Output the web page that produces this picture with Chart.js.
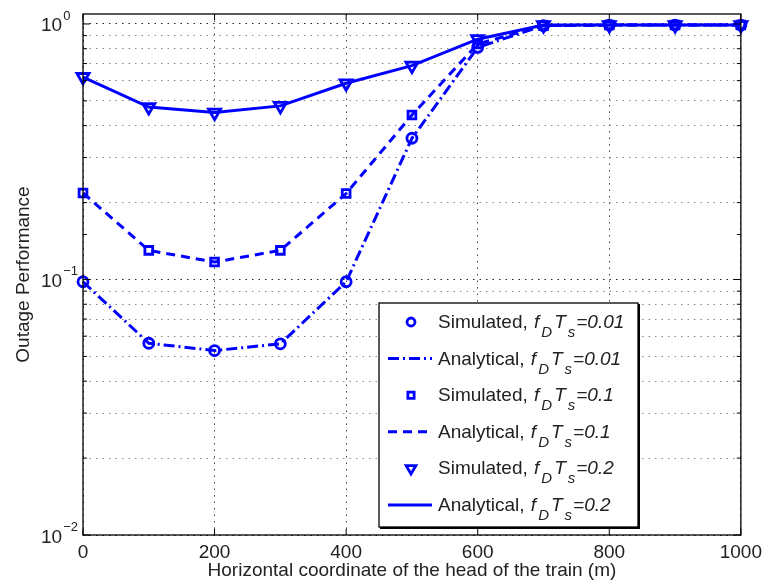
<!DOCTYPE html>
<html>
<head>
<meta charset="utf-8">
<script src="https://cdn.jsdelivr.net/npm/chart.js@4.4.0/dist/chart.umd.min.js"></script>
<style>
  html, body { margin: 0; background: #fff; }
  #wrap { width: 768px; height: 586px; }
</style>
</head>
<body>
<div id="wrap"><canvas id="outageChart"></canvas></div>
<script>
// horizontal position of the train head (m)
const xPos = [0, 100, 200, 300, 400, 500, 600, 700, 800, 900, 1000];
// outage performance
const outage001 = [0.098, 0.0563, 0.0527, 0.056, 0.098, 0.357, 0.81, 0.985, 0.99, 0.99, 0.99];
const outage01 = [0.218, 0.130, 0.117, 0.130, 0.217, 0.44, 0.835, 0.985, 0.99, 0.99, 0.99];
const outage02 = [0.62, 0.473, 0.45, 0.478, 0.586, 0.687, 0.872, 0.99, 0.99, 0.99, 0.99];
const fdtsLabels = ['0.01', '0.1', '0.2'];
const yDecades = [0.01, 0.1, 1];
const xTickStep = 200;

const FONT = '"Liberation Sans", Arial, Helvetica, sans-serif';
const BLUE = '#0000ff';

function pts(arr) {
    return xPos.map((x, i) => ({ x: x, y: arr[i] }));
}

function simulated(arr, style, r, rot, fdts) {
    return {
        label: 'Simulated', fdts: fdts, data: pts(arr), showLine: false,
        pointStyle: style, pointRadius: r, pointRotation: rot || 0,
        pointBorderWidth: 2.8, pointBorderColor: BLUE,
        pointBackgroundColor: 'rgba(0,0,0,0)', borderColor: BLUE, clip: false
    };
}

function analytical(arr, dash, fdts) {
    return {
        label: 'Analytical', fdts: fdts, data: pts(arr), borderColor: BLUE,
        borderWidth: 3, borderDash: dash, pointRadius: 0, tension: 0, clip: false
    };
}

// draws box, inward ticks, superscript labels, axis titles and the legend
const matlabLook = {
    id: 'matlabLook',
    afterDraw(chart) {
        let ctx = chart.ctx;
        let a = chart.chartArea;
        let xs = chart.scales.x, ys = chart.scales.y;
        ctx.save();

        ctx.strokeStyle = '#000';
        ctx.lineWidth = 1.3;
        ctx.setLineDash([]);
        ctx.strokeRect(a.left, a.top, a.right - a.left, a.bottom - a.top);

        // tick marks pointing inward
        ctx.lineWidth = 1;
        ctx.beginPath();
        for (let v = 0; v <= 1000; v += xTickStep) {
            let x = xs.getPixelForValue(v);
            ctx.moveTo(x, a.bottom); ctx.lineTo(x, a.bottom - 6);
            ctx.moveTo(x, a.top); ctx.lineTo(x, a.top + 6);
        }
        ys.ticks.forEach(t => {
            let v = t.value;
            if (v > 1.0001) return;
            let m = v / Math.pow(10, Math.floor(Math.log10(v) + 1e-9));
            let len = Math.abs(m - 1) < 1e-6 ? 7 : 4;
            let y = ys.getPixelForValue(v);
            ctx.moveTo(a.left, y); ctx.lineTo(a.left + len, y);
            ctx.moveTo(a.right, y); ctx.lineTo(a.right - len, y);
        });
        ctx.stroke();

        // y tick labels as 10 with exponent
        ctx.fillStyle = '#222';
        ctx.textAlign = 'left';
        ctx.textBaseline = 'alphabetic';
        yDecades.forEach(v => {
            let y = ys.getPixelForValue(v);
            let exp = String(Math.round(Math.log10(v))).replace('-', '\u2212');
            ctx.font = '19px ' + FONT;
            ctx.fillText('10', 41, y + 7.5);
            let w = ctx.measureText('10').width;
            ctx.font = '13px ' + FONT;
            ctx.fillText(exp, 41 + w + 1, y - 4);
        });

        // axis titles
        ctx.font = '19px ' + FONT;
        ctx.textAlign = 'center';
        ctx.fillText('Horizontal coordinate of the head of the train (m)', (a.left + a.right) / 2, 576);
        ctx.save();
        ctx.translate(29, (a.top + a.bottom) / 2);
        ctx.rotate(-Math.PI / 2);
        ctx.fillText('Outage Performance', 0, 0);
        ctx.restore();

        // legend
        let lx = 379, ly = 303, lw = 259, lh = 224;
        ctx.fillStyle = '#fff';
        ctx.fillRect(lx, ly, lw, lh);
        ctx.strokeStyle = '#000';
        ctx.lineWidth = 1.3;
        ctx.strokeRect(lx, ly, lw, lh);
        ctx.lineWidth = 2;
        ctx.beginPath();
        ctx.moveTo(lx + 1, ly + lh + 1); ctx.lineTo(lx + lw + 1, ly + lh + 1); ctx.lineTo(lx + lw + 1, ly + 1);
        ctx.stroke();

        chart.data.datasets.forEach((ds, i) => {
            let cy = 322 + i * 36.6;
            ctx.strokeStyle = BLUE;
            if (ds.showLine === false) {
                ctx.setLineDash([]);
                ctx.lineWidth = ds.pointBorderWidth;
                ctx.fillStyle = 'rgba(0,0,0,0)';
                Chart.helpers.drawPoint(ctx, {
                    pointStyle: ds.pointStyle, rotation: ds.pointRotation,
                    radius: ds.pointRadius * 0.8, borderWidth: ds.pointBorderWidth
                }, 411, cy);
            } else {
                ctx.lineWidth = ds.borderWidth;
                ctx.setLineDash(ds.borderDash || []);
                ctx.beginPath();
                ctx.moveTo(388, cy); ctx.lineTo(432, cy);
                ctx.stroke();
                ctx.setLineDash([]);
            }
            let base = cy + 6;
            let x = 438;
            ctx.fillStyle = '#222';
            ctx.textAlign = 'left';
            ctx.font = '19px ' + FONT;
            ctx.fillText(ds.label + ', ', x, base);
            x += ctx.measureText(ds.label + ', ').width + 1;
            ctx.font = 'italic 19px ' + FONT;
            ctx.fillText('f', x, base); x += ctx.measureText('f').width + 2;
            ctx.font = 'italic 15px ' + FONT;
            ctx.fillText('D', x, base + 9); x += ctx.measureText('D').width + 2;
            ctx.font = 'italic 19px ' + FONT;
            ctx.fillText('T', x, base); x += ctx.measureText('T').width + 2;
            ctx.font = 'italic 15px ' + FONT;
            ctx.fillText('s', x, base + 9); x += ctx.measureText('s').width + 1;
            ctx.font = 'italic 19px ' + FONT;
            ctx.fillText('=' + ds.fdts, x, base);
        });
        ctx.restore();
    }
};

function yGridColor(c) {
    let v = c.tick && c.tick.value;
    if (!v || v > 1.0001) return 'rgba(0,0,0,0)';
    let m = v / Math.pow(10, Math.floor(Math.log10(v) + 1e-9));
    if (Math.abs(m - Math.round(m)) > 1e-6) return 'rgba(0,0,0,0)';
    return Math.abs(m - 1) < 1e-6 ? '#222' : '#888';
}

document.addEventListener('DOMContentLoaded', function() {
    let ctx = document.getElementById('outageChart').getContext('2d');
    new Chart(ctx, {
        type: 'line',
        data: {
            datasets: [
                simulated(outage001, 'circle', 5, 0, fdtsLabels[0]),
                analytical(outage001, [11, 4, 2, 4], fdtsLabels[0]),
                simulated(outage01, 'rect', 5.5, 0, fdtsLabels[1]),
                analytical(outage01, [9, 6], fdtsLabels[1]),
                simulated(outage02, 'triangle', 7, 180, fdtsLabels[2]),
                analytical(outage02, [], fdtsLabels[2])
            ]
        },
        options: {
            responsive: true,
            maintainAspectRatio: false,
            animation: false,
            layout: { padding: { top: 14, right: 25, left: 0, bottom: 0 } },
            plugins: { legend: { display: false }, tooltip: { enabled: false } },
            scales: {
                x: {
                    type: 'linear', min: 0, max: 1000,
                    ticks: {
                        stepSize: xTickStep, color: '#222', font: { family: FONT, size: 19 },
                        padding: 6, maxRotation: 0, callback: v => String(v)
                    },
                    grid: { color: '#444', lineWidth: 1, drawTicks: false },
                    border: { display: false, dash: [1.5, 5] },
                    afterFit: function(s) { s.height = 51; }
                },
                y: {
                    type: 'logarithmic', min: 0.01, max: 1.094,
                    ticks: { autoSkip: false, callback: () => '' },
                    grid: { color: yGridColor, lineWidth: 1, drawTicks: false },
                    border: { display: false, dash: [1.5, 5] },
                    afterFit: function(s) { s.width = 83; }
                }
            }
        },
        plugins: [matlabLook]
    });
});
</script>
</body>
</html>
